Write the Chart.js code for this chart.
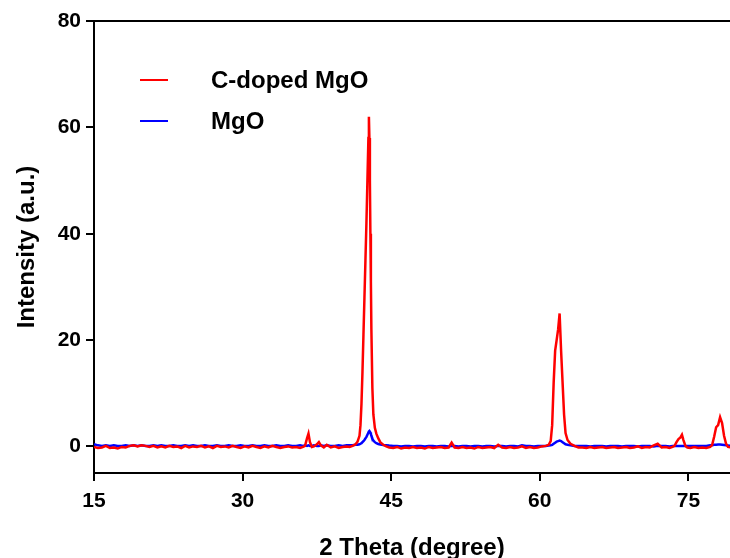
<!DOCTYPE html>
<html><head><meta charset="utf-8">
<script src="https://cdn.jsdelivr.net/npm/chart.js@4.4.1/dist/chart.umd.min.js"></script>
<style>html,body{margin:0;padding:0;background:#fff;overflow:hidden}#wrap{position:relative;width:730px;height:558px}</style>
</head><body><div id="wrap"><canvas id="c" width="730" height="558"></canvas></div>
<script>
const seriesNames = ['C-doped MgO', 'MgO'];
const seriesColors = ['#ff0000', '#0000ff'];
const xTicks = [15, 30, 45, 60, 75];
const yTicks = [0, 20, 40, 60, 80];

const twoTheta = [
  15.0,15.4,15.8,16.2,16.6,17.0,17.4,17.8,18.2,18.6,19.0,19.4,19.8,20.2,20.6,21.0,21.4,21.8,22.2,22.6,
  23.0,23.4,23.8,24.2,24.6,25.0,25.4,25.8,26.2,26.6,27.0,27.4,27.8,28.2,28.6,29.0,29.4,29.8,30.2,30.6,
  31.0,31.4,31.8,32.2,32.6,33.0,33.4,33.8,34.2,34.6,35.0,35.4,35.8,
  36.1,36.3,36.5,36.65,36.8,37.0,37.2,37.5,37.7,37.9,38.2,38.5,38.9,39.3,39.7,40.1,40.5,40.8,41.1,41.4,
  41.6,41.8,41.9,42.0,42.1,42.2,42.3,42.4,42.5,42.6,42.7,42.75,42.8,42.85,42.9,42.95,43.0,43.1,43.2,43.35,
  43.5,43.7,43.9,44.2,44.5,44.8,
  45.2,45.6,46.0,46.4,46.8,47.2,47.6,48.0,48.4,48.8,49.2,49.6,50.0,50.4,50.8,51.1,51.4,51.8,52.2,52.6,
  53.0,53.4,53.8,54.2,54.6,55.0,55.4,55.8,56.2,56.6,57.0,57.4,57.8,58.2,58.6,59.0,59.4,59.8,60.2,60.6,
  60.9,61.1,61.25,61.4,61.55,61.7,61.85,62.0,62.15,62.3,62.45,62.6,62.8,63.1,63.5,63.9,
  64.3,64.7,65.1,65.5,65.9,66.3,66.7,67.1,67.5,67.9,68.3,68.7,69.1,69.5,69.9,70.3,70.7,71.1,71.5,71.9,
  72.3,72.7,73.1,73.4,
  73.6,73.8,74.0,74.2,74.35,74.5,74.7,74.9,75.2,75.6,76.0,76.4,76.8,77.2,77.4,77.6,77.8,78.0,78.2,78.4,
  78.6,78.8,79.0,79.3
];

const cDopedMgO = [
  -0.1,-0.3,-0.2,0.1,-0.3,-0.2,-0.4,-0.1,-0.2,0.1,0.2,0.0,0.2,0.1,-0.1,0.1,-0.2,0.0,-0.2,0.1,
  -0.1,0.0,-0.3,0.1,-0.2,0.0,-0.1,0.1,-0.2,0.0,-0.3,0.1,-0.1,0.0,-0.2,0.1,-0.1,-0.3,0.0,-0.2,
  0.1,-0.1,-0.3,0.0,-0.2,0.1,-0.1,-0.3,-0.1,0.0,-0.2,-0.1,-0.3,
  -0.1,0.1,1.5,2.4,0.8,-0.1,0.0,0.4,0.8,0.2,-0.2,0.3,-0.2,0.0,-0.3,-0.1,0.0,-0.1,0.1,0.4,
  0.9,2.0,4.0,8,14,21,28,35,42,50,58,62,58,50,40,31,22,11,6,3.5,
  2.4,1.5,0.8,0.3,0.0,-0.2,
  -0.3,-0.1,-0.4,-0.2,-0.3,-0.1,-0.3,-0.2,-0.4,-0.1,-0.3,-0.2,-0.1,-0.3,-0.2,0.7,-0.2,-0.3,-0.1,-0.3,
  -0.2,-0.4,-0.1,-0.3,-0.2,-0.1,-0.3,0.3,-0.2,-0.3,-0.1,-0.3,-0.2,0.0,-0.3,-0.1,-0.3,-0.2,0.0,0.1,
  0.3,1.0,4,12,18,20,22,25,18,12,6,2.5,1.2,0.5,0.1,-0.2,
  -0.2,-0.3,-0.1,-0.3,-0.2,-0.1,-0.3,-0.2,-0.1,-0.3,-0.2,-0.1,-0.3,-0.2,0.0,-0.3,-0.1,-0.2,0.2,0.5,
  -0.2,-0.1,-0.3,-0.1,
  0.1,0.8,1.4,1.7,2.2,1.2,0.1,-0.2,-0.3,-0.1,-0.3,-0.2,-0.3,-0.1,0.3,1.8,3.6,4.0,5.5,4.4,
  2.0,0.5,-0.1,-0.2
];

const mgO = [
  0.4,0.2,0.1,0.2,0.1,0.2,0.1,0.1,0.2,0.1,0.2,0.1,0.2,0.1,0.1,0.2,0.1,0.2,0.1,0.1,
  0.2,0.1,0.1,0.2,0.1,0.2,0.1,0.1,0.2,0.1,0.1,0.2,0.1,0.1,0.2,0.1,0.1,0.2,0.1,0.1,
  0.2,0.1,0.1,0.2,0.1,0.1,0.2,0.1,0.1,0.2,0.1,0.1,0.2,
  0.1,0.2,0.1,0.2,0.1,0.1,0.2,0.1,0.1,0.2,0.1,0.2,0.1,0.1,0.2,0.1,0.2,0.2,0.2,0.3,
  0.3,0.4,0.5,0.6,0.8,1.0,1.2,1.5,1.8,2.2,2.6,2.8,2.9,2.9,2.6,2.3,2.0,1.5,1.1,0.8,
  0.6,0.45,0.35,0.25,0.2,0.15,
  0.1,0.1,0.0,0.1,0.1,0.0,0.1,0.1,0.0,0.1,0.1,0.0,0.1,0.1,0.0,0.1,0.1,0.0,0.1,0.1,
  0.0,0.1,0.1,0.0,0.1,0.1,0.0,0.1,0.1,0.0,0.1,0.1,0.0,0.2,0.1,0.1,0.0,0.1,0.1,0.1,
  0.15,0.2,0.3,0.5,0.7,0.9,1.0,1.1,1.0,0.8,0.6,0.4,0.3,0.2,0.1,0.1,
  0.1,0.1,0.0,0.1,0.1,0.1,0.0,0.1,0.1,0.1,0.0,0.1,0.1,0.1,0.0,0.1,0.1,0.1,0.0,0.1,
  0.1,0.1,0.0,0.1,
  0.1,0.1,0.1,0.1,0.1,0.1,0.1,0.1,0.1,0.1,0.1,0.1,0.1,0.2,0.2,0.3,0.3,0.35,0.35,0.3,
  0.25,0.2,0.15,0.1
];

const FONT = "'Liberation Sans', Arial, sans-serif";
const toPoints = ys => twoTheta.map((x, i) => ({ x: x, y: ys[i] }));

const frameAndLegend = {
  id: 'frameAndLegend',
  afterDraw(chart) {
    const { ctx, chartArea } = chart;
    ctx.save();
    ctx.strokeStyle = '#000';
    ctx.lineWidth = 2;
    ctx.beginPath();
    ctx.moveTo(chartArea.left - 8, chartArea.top);
    ctx.lineTo(chartArea.right, chartArea.top);
    ctx.stroke();
    const rows = [80, 121];
    ctx.font = 'bold 24px ' + FONT;
    ctx.textBaseline = 'middle';
    ctx.textAlign = 'left';
    chart.data.datasets.forEach((ds, i) => {
      ctx.strokeStyle = ds.borderColor;
      ctx.lineWidth = 2;
      ctx.beginPath();
      ctx.moveTo(140, rows[i]);
      ctx.lineTo(168, rows[i]);
      ctx.stroke();
      ctx.fillStyle = '#000';
      ctx.fillText(ds.label, 211, rows[i] + 1);
    });
    ctx.restore();
  }
};

new Chart(document.getElementById('c'), {
  type: 'line',
  data: {
    datasets: [
      { label: seriesNames[0], data: toPoints(cDopedMgO), borderColor: seriesColors[0], backgroundColor: seriesColors[0], borderWidth: 2.5, pointRadius: 0, tension: 0 },
      { label: seriesNames[1], data: toPoints(mgO), borderColor: seriesColors[1], backgroundColor: seriesColors[1], borderWidth: 2.5, pointRadius: 0, tension: 0 }
    ]
  },
  options: {
    responsive: false,
    animation: false,
    devicePixelRatio: 1,
    layout: { padding: { top: 21, right: 0, left: 0, bottom: 0 } },
    plugins: { legend: { display: false }, tooltip: { enabled: false } },
    scales: {
      x: {
        type: 'linear', min: 15, max: 79.2,
        afterBuildTicks: s => { s.ticks = xTicks.map(v => ({ value: v })); },
        afterFit: s => { s.height = 85; },
        border: { display: true, color: '#000', width: 2 },
        grid: { display: true, drawOnChartArea: false, drawTicks: true, tickLength: 8, color: '#000', lineWidth: 2 },
        ticks: { color: '#000', font: { family: FONT, size: 21, weight: 'bold' }, padding: 8, maxRotation: 0 },
        title: { display: true, text: '2 Theta (degree)', color: '#000', font: { family: FONT, size: 24, weight: 'bold', lineHeight: 1 }, padding: { top: 0, bottom: -2 } }
      },
      y: {
        type: 'linear', min: -5, max: 80,
        afterBuildTicks: s => { s.ticks = yTicks.map(v => ({ value: v })); },
        afterFit: s => { s.width = 94; },
        border: { display: true, color: '#000', width: 2 },
        grid: { display: true, drawOnChartArea: false, drawTicks: true, tickLength: 8, color: '#000', lineWidth: 2 },
        ticks: { color: '#000', font: { family: FONT, size: 21, weight: 'bold' }, padding: 5 },
        title: { display: true, text: 'Intensity (a.u.)', color: '#000', font: { family: FONT, size: 24, weight: 'bold', lineHeight: 1 }, padding: { top: 15, bottom: 0 } }
      }
    }
  },
  plugins: [frameAndLegend]
});
</script>
</body></html>
